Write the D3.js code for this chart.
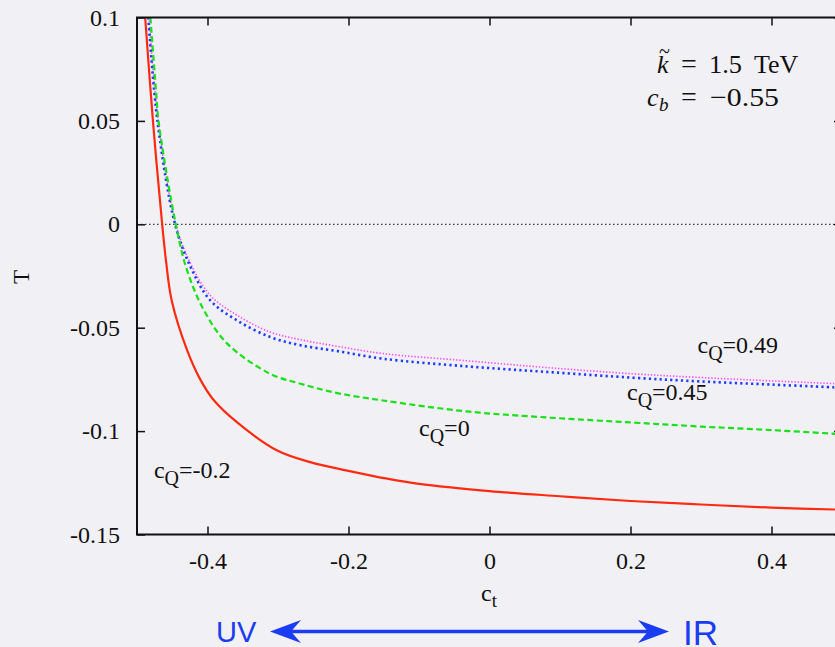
<!DOCTYPE html>
<html>
<head>
<meta charset="utf-8">
<script src="https://cdn.jsdelivr.net/npm/d3@7"></script>
<style>
  html, body { margin: 0; padding: 0; background: #f1f0f5; }
  svg { display: block; }
  text { font-family: "Liberation Serif", "DejaVu Serif", serif; fill: #111; }
</style>
</head>
<body>
<svg id="chart"></svg>
<script>
// c_Q = -0.2 (red, solid)
var redC = [-0.4884, -0.4774, -0.4643, -0.4586, -0.4508, -0.4288, -0.4111, -0.3919, -0.3579, -0.3011, -0.2543, -0.2, -0.1451, -0.1, 0, 0.1, 0.2, 0.3, 0.4, 0.5]
var redT = [0.1, 0.05, 0, -0.0184, -0.0368, -0.061, -0.0745, -0.0847, -0.0958, -0.1094, -0.115, -0.1192, -0.123, -0.1255, -0.129, -0.1315, -0.1338, -0.1355, -0.137, -0.138]

// c_Q = 0 (green, dashed)
var greenC = [-0.481, -0.472, -0.4695, -0.445, -0.429, -0.405, -0.372, -0.311, -0.268, -0.216, -0.151, -0.032, 0.086, 0.2, 0.3, 0.4, 0.5]
var greenT = [0.1, 0.06, 0.05, 0, -0.0223, -0.0416, -0.0577, -0.0723, -0.0771, -0.0816, -0.0852, -0.0905, -0.0935, -0.0958, -0.0978, -0.0995, -0.1015]

// c_Q = 0.45 (blue, dotted)
var blueC = [-0.484, -0.471, -0.446, -0.424, -0.396, -0.358, -0.311, -0.268, -0.216, -0.151, -0.032, 0.086, 0.204, 0.3, 0.4, 0.5]
var blueT = [0.1, 0.05, 0, -0.0206, -0.0368, -0.0465, -0.0545, -0.0585, -0.0613, -0.065, -0.0687, -0.0715, -0.0742, -0.076, -0.0775, -0.079]

// c_Q = 0.49 (magenta, fine dots)
var magC = [-0.483, -0.47, -0.445, -0.424, -0.396, -0.358, -0.311, -0.268, -0.216, -0.151, -0.032, 0.086, 0.204, 0.3, 0.4, 0.5]
var magT = [0.1, 0.05, 0, -0.019, -0.0344, -0.044, -0.0521, -0.0558, -0.059, -0.0625, -0.066, -0.0694, -0.0723, -0.0741, -0.0757, -0.0772]

var xTicks = [-0.4, -0.2, 0, 0.2, 0.4]
var yTicks = [0.1, 0.05, 0, -0.05, -0.1, -0.15]
var xTickLabels = ["-0.4", "-0.2", "0", "0.2", "0.4"]
var yTickLabels = ["0.1", "0.05", "0", "-0.05", "-0.1", "-0.15"]


var width = 835,
    height = 647,
    pLeft = 137, pRight = 842, pTop = 17.5, pBottom = 534.5,
    svg = d3.select("#chart").attr("width", width).attr("height", height),
    x = d3.scaleLinear().domain([-0.5, 0.5]).range([pLeft, pRight]),
    y = d3.scaleLinear().domain([-0.15, 0.1]).range([pBottom, pTop])

svg.append("defs").append("clipPath")
    .attr("id", "plot")
  .append("rect")
    .attr("x", pLeft).attr("y", pTop)
    .attr("width", pRight - pLeft).attr("height", pBottom - pTop)

// zero line
svg.append("line")
  .attr("x1", pLeft).attr("x2", pRight)
  .attr("y1", y(0)).attr("y2", y(0))
  .attr("stroke", "#111").attr("stroke-width", 1)
  .attr("stroke-dasharray", "1.5,2.5")

var series = [
  {c: magC, t: magT, color: "#ff4cff", width: 1.6, dash: "1.4,1.8"},
  {c: blueC, t: blueT, color: "#1c3cff", width: 2.6, dash: "2.2,3.2"},
  {c: greenC, t: greenT, color: "#19e019", width: 2.2, dash: "6,3.4"},
  {c: redC, t: redT, color: "#ff2a10", width: 2.2, dash: null}
]

var line = d3.line()
  .x((d) => x(d[0]))
  .y((d) => y(d[1]))
  .curve(d3.curveCatmullRom.alpha(0.5))

svg.append("g")
    .attr("clip-path", "url(#plot)")
  .selectAll("path")
  .data(series)
  .enter().append("path")
    .attr("d", (s) => line(s.c.map((c, i) => [c, s.t[i]])))
    .attr("fill", "none")
    .attr("stroke", (s) => s.color)
    .attr("stroke-width", (s) => s.width)
    .attr("stroke-dasharray", (s) => s.dash)

// axes: ticks drawn inward on all four sides
var tickLen = 8

svg.append("g")
  .attr("transform", `translate(0,${pBottom})`)
  .call(d3.axisBottom(x).tickValues(xTicks).tickSizeInner(-tickLen).tickSizeOuter(0)
          .tickPadding(17).tickFormat((d, i) => xTickLabels[i]))
  .call((g) => g.select(".domain").remove())

svg.append("g")
  .attr("transform", `translate(0,${pTop})`)
  .call(d3.axisTop(x).tickValues(xTicks).tickSizeInner(-tickLen).tickSizeOuter(0).tickFormat(""))
  .call((g) => g.select(".domain").remove())

svg.append("g")
  .attr("transform", `translate(${pLeft},0)`)
  .call(d3.axisLeft(y).tickValues(yTicks).tickSizeInner(-tickLen).tickSizeOuter(0)
          .tickPadding(17).tickFormat((d, i) => yTickLabels[i]))
  .call((g) => g.select(".domain").remove())

svg.append("g")
  .attr("transform", `translate(${pRight},0)`)
  .call(d3.axisRight(y).tickValues(yTicks).tickSizeInner(-tickLen).tickSizeOuter(0).tickFormat(""))
  .call((g) => g.select(".domain").remove())

svg.selectAll(".tick line").attr("stroke", "#111").attr("stroke-width", 1.5)
svg.selectAll(".tick text")
  .attr("font-size", 24)
  .attr("fill", "#111")

svg.append("rect")
  .attr("x", pLeft).attr("y", pTop)
  .attr("width", pRight - pLeft).attr("height", pBottom - pTop)
  .attr("fill", "none").attr("stroke", "#111").attr("stroke-width", 2)

// axis titles
svg.append("text")
  .attr("transform", "translate(29,277) rotate(-90)")
  .attr("text-anchor", "middle")
  .attr("font-size", 23)
  .text("T")

var xt = svg.append("text")
  .attr("x", 481).attr("y", 601)
  .attr("font-size", 24)
xt.append("tspan").text("c")
xt.append("tspan").attr("dy", 6).attr("font-size", 19).text("t")

// curve labels
var labels = [
  {name: "0.49", cx: 0.295, ty: -0.0623},
  {name: "0.45", cx: 0.195, ty: -0.0852},
  {name: "0", cx: -0.1, ty: -0.1026},
  {name: "-0.2", cx: -0.476, ty: -0.1229}
]

labels.forEach((l) => {
  var t = svg.append("text")
    .attr("x", x(l.cx)).attr("y", y(l.ty))
    .attr("font-size", 24)
  t.append("tspan").text("c")
  t.append("tspan").attr("dy", 7).attr("font-size", 20).text("Q")
  t.append("tspan").attr("dy", -7).text("=" + l.name)
})

// parameter box
var p1 = svg.append("text").attr("y", 72.5).attr("font-size", 26)
p1.append("tspan").attr("x", 657).attr("font-style", "italic").text("k")
p1.append("tspan").attr("x", 681).attr("font-size", 28).text("=")
p1.append("tspan").attr("x", 709).text("1.5")
  .attr("textLength", 33).attr("lengthAdjust", "spacingAndGlyphs")
p1.append("tspan").attr("x", 754).text("TeV")
svg.append("text").attr("x", 659).attr("y", 58).attr("font-size", 20).text("~")

var p2 = svg.append("text").attr("y", 106).attr("font-size", 26)
p2.append("tspan").attr("x", 647).attr("font-style", "italic").text("c")
p2.append("tspan").attr("x", 659).attr("dy", 5).attr("font-style", "italic").attr("font-size", 19).text("b")
p2.append("tspan").attr("x", 681).attr("dy", -5).attr("font-size", 28).text("=")
p2.append("tspan").attr("x", 710).text("\u22120.55")
  .attr("textLength", 69).attr("lengthAdjust", "spacingAndGlyphs")

// UV <-> IR arrow
var blue = "#1a3cf2"
svg.append("line")
  .attr("x1", 285).attr("x2", 655)
  .attr("y1", 631.5).attr("y2", 631.5)
  .attr("stroke", blue).attr("stroke-width", 3.5)

svg.append("path")
  .attr("d", "M270,631.5 L301,620 L291,631.5 L301,643 Z")
  .attr("fill", blue)
svg.append("path")
  .attr("d", "M669,631.5 L638,620 L648,631.5 L638,643 Z")
  .attr("fill", blue)

svg.append("text")
  .attr("x", 216).attr("y", 642)
  .style("font-family", "'Liberation Sans', Arial, sans-serif")
  .style("font-size", "29px")
  .style("fill", blue)
  .text("UV")

svg.append("text")
  .attr("x", 683).attr("y", 645)
  .style("font-family", "'Liberation Sans', Arial, sans-serif")
  .style("font-size", "35px")
  .style("fill", blue)
  .text("IR")
</script>
</body>
</html>
